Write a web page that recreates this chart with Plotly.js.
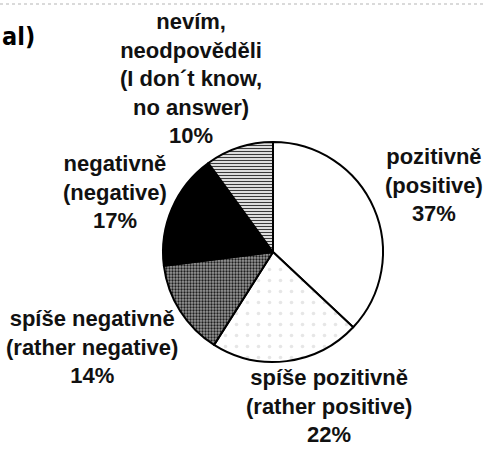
<!DOCTYPE html>
<html>
<head>
<meta charset="utf-8">
<script src="https://cdn.plot.ly/plotly-3.0.1.min.js"></script>
<style>html,body{margin:0;padding:0;background:#fff;}#chart{width:484px;height:449px;}</style>
</head>
<body>
<div id="chart"></div>
<script>
// Data (clockwise from 12 o'clock)
const labelsCz = ['pozitivně', 'spíše pozitivně', 'spíše negativně', 'negativně', 'nevím,<br>neodpověděli'];
const labelsEn = ['positive', 'rather positive', 'rather negative', 'negative', 'I don´t know,<br>no answer'];
const values = [37, 22, 14, 17, 10];

// Label placement (pixel centres in the 484x449 frame)
const labelX = [434, 329, 92, 115, 191];
const labelY = [185, 406, 347, 192, 79];

const W = 484, H = 449;
const cx = 273, cy = 252, r = 110;

const fill = {
  colors: ['#ffffff', '#fcfcfc', '#6e6e6e', '#000000', '#ffffff'],
  pattern: {
    shape: ['', '.', '.', '', '-'],
    fgcolor: ['#000', '#e6e6e6', '#1e1e1e', '#000', '#3a3a3a'],
    bgcolor: ['#ffffff', '#ffffff', '#9a9a9a', '#000000', '#ffffff'],
    size: [6, 11, 3, 6, 3],
    solidity: [0.3, 0.08, 0.45, 0.3, 0.45],
    fillmode: 'replace'
  }
};

const trace = {
  type: 'pie',
  values: values,
  labels: labelsCz,
  sort: false,
  direction: 'clockwise',
  rotation: 0,
  textinfo: 'none',
  hoverinfo: 'none',
  showlegend: false,
  marker: {
    colors: fill.colors,
    pattern: fill.pattern,
    line: {color: '#000000', width: 2}
  },
  domain: {
    x: [(cx - r) / W, (cx + r) / W],
    y: [(H - cy - r) / H, (H - cy + r) / H]
  }
};

const font = {family: '"Liberation Sans", Arial, sans-serif', size: 22, color: '#111111'};

const annotations = values.map((v, i) => ({
  xref: 'paper', yref: 'paper',
  x: labelX[i] / W, y: 1 - labelY[i] / H,
  xanchor: 'center', yanchor: 'middle', align: 'center',
  showarrow: false,
  text: '<b>' + labelsCz[i] + '<br>(' + labelsEn[i] + ')<br>' + v + '%</b>',
  font: font
}));

annotations.push({
  xref: 'paper', yref: 'paper',
  x: 0, y: 1 - 36 / H,
  xanchor: 'left', yanchor: 'middle',
  showarrow: false,
  text: '<b>al)</b>',
  font: {family: '"DejaVu Sans Condensed", "DejaVu Sans", sans-serif', size: 25, color: '#000'}
});

const layout = {
  width: W, height: H,
  margin: {l: 0, r: 0, t: 0, b: 0},
  paper_bgcolor: '#ffffff',
  plot_bgcolor: '#ffffff',
  annotations: annotations,
  shapes: [{
    type: 'line', xref: 'paper', yref: 'paper',
    x0: 0, x1: 1, y0: 1 - 4 / H, y1: 1 - 4 / H,
    line: {color: '#b5b5b5', width: 1, dash: 'dot'}
  }]
};

Plotly.newPlot('chart', [trace], layout, {displayModeBar: false, staticPlot: true});
</script>
</body>
</html>
